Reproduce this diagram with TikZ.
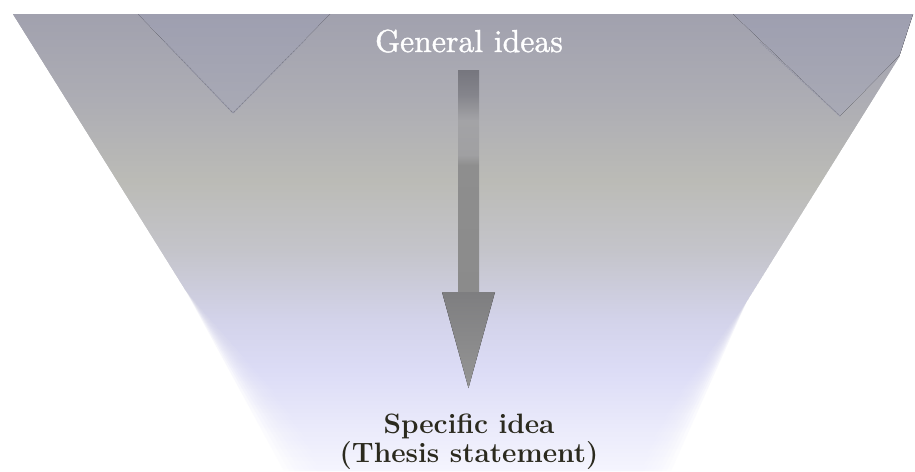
\documentclass[tikz,border=0pt]{standalone}
\usepackage{fontspec}
\usetikzlibrary{calc}
\newfontfamily\genfont{lmroman10-regular}[Extension=.otf, FakeBold=1.2]
\definecolor{f1}{HTML}{A1A1AE}
\definecolor{f2}{HTML}{ADADB4}
\definecolor{f3}{HTML}{BBBBB6}
\definecolor{f4}{HTML}{C4C4CA}
\definecolor{f5}{HTML}{D3D3EA}
\definecolor{f6}{HTML}{DCDCF6}
\definecolor{f7}{HTML}{EBEBFB}
\definecolor{f8}{HTML}{F5F5FE}
\definecolor{s1}{HTML}{76767E}
\definecolor{s2}{HTML}{85858C}
\definecolor{s3}{HTML}{A3A3A6}
\definecolor{s4}{HTML}{A0A0A2}
\definecolor{s5}{HTML}{8E8E8E}
\definecolor{s6}{HTML}{8B8B8B}
\definecolor{t1}{HTML}{9E9FB0}
\definecolor{t2}{HTML}{A9AAB5}
\definecolor{tl}{HTML}{9394A4}
\definecolor{h1}{HTML}{7E7E80}
\definecolor{h2}{HTML}{959595}
\definecolor{textdark}{HTML}{2B2A1E}
\pgfdeclareverticalshading{funnelshade}{100bp}{color(0bp)=(f8); color(25bp)=(f8); color(29.5bp)=(f7); color(36bp)=(f6); color(41.5bp)=(f5); color(49.2bp)=(f4); color(56.8bp)=(f3); color(65.6bp)=(f2); color(75bp)=(f1); color(100bp)=(f1)}
\pgfdeclareverticalshading{shaftshade}{100bp}{color(0bp)=(s6); color(25bp)=(s6); color(53.6bp)=(s5); color(55.9bp)=(s4); color(63.7bp)=(s3); color(69.4bp)=(s2); color(75bp)=(s1); color(100bp)=(s1)}
\tikzset{
  tri/.style={top color=t1, bottom color=t2},
  gentext/.style={text=white, font=\genfont\fontsize{31.8pt}{36pt}\selectfont, inner sep=0pt, anchor=base},
  spectext/.style={text=textdark, font=\bfseries\fontsize{28pt}{30pt}\selectfont, inner sep=0pt, anchor=base},
}
\begin{document}
\begin{tikzpicture}[x=1pt,y=-1pt]
\useasboundingbox (0,0) rectangle (915,471);
\fill[white] (0,0) rectangle (915,471);
% funnel: soft-edged lower part built from stacked translucent layers
\foreach \k in {0,...,11} {
  \pgfmathsetmacro\dl{-15+\k*60/11}
  \pgfmathsetmacro\dr{-30+\k*50/11}
  \path[shading=funnelshade, fill opacity=0.2]
    (13,14) -- (913,14) -- (899,57) -- (747.4,300) -- ({641-\dr},471) -- ({299+\dl},471) -- (185.5,290) -- cycle;
}
\path[shading=funnelshade]
  (13,14) -- (913,14) -- (899,57) -- (747.4,300) -- (621,471) -- (344,471) -- (185.5,290) -- cycle;
\begin{scope}
  \clip (13,14) -- (913,14) -- (899,57) -- (641,471) -- (299,471) -- cycle;
  \fill[tri] (138,14) -- (330,14) -- (233,113) -- cycle;
  \fill[tri] (733,14) -- (940,14) -- (840,116) -- cycle;
  \draw[tl, densely dotted, line width=1.2pt] (165,42) -- (233,113) -- (305,40);
  \draw[tl, densely dotted, line width=1.2pt] (760,42) -- (840,116);
\end{scope}
% texts
\node[gentext] (gen) at (469,52) {General ideas};
\node[spectext] (spec) at (469,433) {Specific idea};
\node[spectext] (thesis) at (469,462) {(Thesis statement)};
% arrow
\coordinate (atop) at (468.5,70);
\coordinate (abase) at (468.5,292);
\coordinate (atip) at (468.5,388);
\path[shading=shaftshade] ($(atop)+(-10.5,0)$) rectangle ($(abase)+(10.5,0.5)$);
\fill[top color=h1, bottom color=h2] ($(abase)+(-26.5,0)$) -- ($(abase)+(26.5,0)$) -- (atip) -- cycle;
\end{tikzpicture}
\end{document}
